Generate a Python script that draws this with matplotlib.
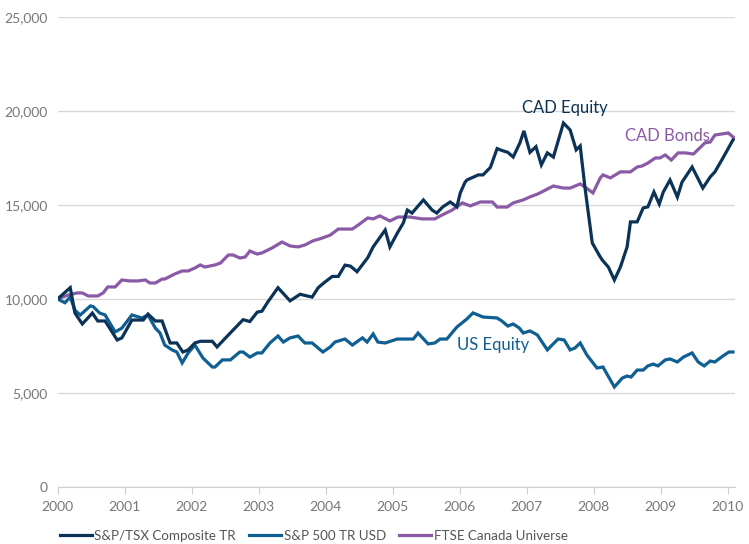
import matplotlib
matplotlib.use("Agg")
import matplotlib.pyplot as plt
from matplotlib.ticker import FuncFormatter

# values: (decimal year, growth of $10,000)
tsx = [(2000.00, 10000), (2000.19, 10600), (2000.26, 9250), (2000.37, 8670), (2000.52, 9250),
       (2000.60, 8830), (2000.71, 8830), (2000.89, 7820), (2000.96, 7930), (2001.11, 8880),
       (2001.28, 8880), (2001.35, 9200), (2001.46, 8830), (2001.56, 8830), (2001.68, 7660),
       (2001.78, 7660), (2001.87, 7180), (2001.95, 7290), (2002.05, 7660), (2002.13, 7750),
       (2002.31, 7750), (2002.38, 7450), (2002.58, 8200), (2002.77, 8900), (2002.87, 8800),
       (2002.98, 9300), (2003.05, 9350), (2003.14, 9850), (2003.29, 10600), (2003.47, 9900),
       (2003.62, 10250), (2003.80, 10100), (2003.89, 10600), (2003.99, 10900), (2004.10, 11200),
       (2004.19, 11200), (2004.29, 11800), (2004.37, 11750), (2004.47, 11450), (2004.63, 12200),
       (2004.71, 12770), (2004.89, 13670), (2004.96, 12770), (2005.07, 13500), (2005.16, 14040),
       (2005.22, 14730), (2005.29, 14570), (2005.46, 15270), (2005.59, 14730), (2005.66, 14570),
       (2005.75, 14900), (2005.86, 15160), (2005.96, 14900), (2006.01, 15640), (2006.08, 16200),
       (2006.11, 16330), (2006.28, 16600), (2006.35, 16600), (2006.46, 17000), (2006.56, 18000),
       (2006.63, 17900), (2006.72, 17800), (2006.80, 17550), (2006.90, 18300), (2006.96, 18940),
       (2007.05, 17800), (2007.14, 18100), (2007.22, 17130), (2007.31, 17770), (2007.40, 17550),
       (2007.55, 19360), (2007.65, 18990), (2007.74, 17930), (2007.80, 18140), (2007.87, 15960),
       (2007.98, 12980), (2008.10, 12230), (2008.13, 12070), (2008.22, 11700), (2008.31, 11010),
       (2008.40, 11700), (2008.50, 12770), (2008.55, 14100), (2008.65, 14100), (2008.74, 14840),
       (2008.81, 14900), (2008.90, 15690), (2008.98, 15050), (2009.04, 15690), (2009.14, 16330),
       (2009.25, 15420), (2009.32, 16220), (2009.47, 17020), (2009.63, 15900), (2009.74, 16490),
       (2009.81, 16760), (2009.93, 17500), (2010.08, 18460)]

sp500 = [(2000.00, 10000), (2000.11, 9800), (2000.19, 10100), (2000.26, 9400), (2000.34, 9150),
         (2000.49, 9630), (2000.53, 9600), (2000.63, 9250), (2000.71, 9150), (2000.86, 8250),
         (2000.96, 8450), (2001.11, 9150), (2001.26, 8990), (2001.35, 9150), (2001.46, 8450),
         (2001.53, 8190), (2001.60, 7550), (2001.71, 7290), (2001.78, 7180), (2001.86, 6600),
         (2001.95, 7130), (2002.05, 7550), (2002.17, 6860), (2002.31, 6380), (2002.35, 6380),
         (2002.46, 6760), (2002.58, 6760), (2002.72, 7180), (2002.77, 7180), (2002.87, 6910),
         (2002.98, 7130), (2003.05, 7130), (2003.17, 7660), (2003.29, 8030), (2003.37, 7710),
         (2003.47, 7930), (2003.59, 8030), (2003.69, 7660), (2003.80, 7660), (2003.89, 7390),
         (2003.96, 7180), (2004.07, 7450), (2004.14, 7710), (2004.29, 7870), (2004.40, 7550),
         (2004.55, 7930), (2004.62, 7710), (2004.71, 8140), (2004.78, 7710), (2004.89, 7660),
         (2005.07, 7870), (2005.31, 7870), (2005.38, 8190), (2005.53, 7610), (2005.63, 7660),
         (2005.71, 7870), (2005.81, 7870), (2005.96, 8510), (2006.11, 8940), (2006.20, 9260),
         (2006.35, 9040), (2006.56, 8990), (2006.63, 8830), (2006.72, 8560), (2006.80, 8670),
         (2006.89, 8460), (2006.95, 8190), (2007.05, 8300), (2007.16, 8090), (2007.31, 7290),
         (2007.38, 7550), (2007.47, 7870), (2007.56, 7820), (2007.65, 7290), (2007.72, 7390),
         (2007.80, 7660), (2007.90, 7020), (2008.05, 6330), (2008.14, 6380), (2008.31, 5320),
         (2008.43, 5800), (2008.50, 5900), (2008.56, 5850), (2008.65, 6220), (2008.74, 6220),
         (2008.81, 6440), (2008.89, 6540), (2008.96, 6440), (2009.07, 6760), (2009.14, 6810),
         (2009.25, 6650), (2009.34, 6910), (2009.47, 7130), (2009.56, 6650), (2009.65, 6440),
         (2009.74, 6700), (2009.81, 6650), (2009.93, 6970), (2010.02, 7180), (2010.08, 7180)]

ftse = [(2000.00, 10000), (2000.16, 10210), (2000.29, 10320), (2000.37, 10320), (2000.46, 10160),
        (2000.60, 10160), (2000.68, 10320), (2000.75, 10640), (2000.86, 10640), (2000.96, 11010),
        (2001.08, 10960), (2001.20, 10960), (2001.31, 11010), (2001.38, 10850), (2001.46, 10850),
        (2001.56, 11060), (2001.60, 11060), (2001.75, 11330), (2001.86, 11490), (2001.95, 11490),
        (2002.05, 11650), (2002.13, 11810), (2002.20, 11700), (2002.35, 11810), (2002.43, 11910),
        (2002.55, 12340), (2002.62, 12340), (2002.72, 12180), (2002.80, 12230), (2002.87, 12550),
        (2002.98, 12390), (2003.05, 12450), (2003.20, 12710), (2003.35, 13030), (2003.47, 12820),
        (2003.59, 12770), (2003.69, 12870), (2003.81, 13090), (2003.95, 13240), (2004.07, 13400),
        (2004.19, 13720), (2004.40, 13720), (2004.49, 13940), (2004.63, 14310), (2004.71, 14260),
        (2004.81, 14420), (2004.96, 14150), (2005.08, 14360), (2005.26, 14360), (2005.44, 14260),
        (2005.63, 14260), (2005.74, 14470), (2005.89, 14730), (2006.04, 15110), (2006.16, 14950),
        (2006.31, 15160), (2006.49, 15160), (2006.56, 14890), (2006.71, 14890), (2006.80, 15110),
        (2006.95, 15270), (2007.05, 15430), (2007.17, 15590), (2007.40, 16010), (2007.55, 15900),
        (2007.65, 15900), (2007.80, 16120), (2007.87, 15960), (2007.99, 15640), (2008.10, 16440),
        (2008.14, 16600), (2008.25, 16440), (2008.40, 16760), (2008.55, 16760), (2008.65, 17020),
        (2008.72, 17070), (2008.81, 17230), (2008.92, 17500), (2008.99, 17500), (2009.07, 17660),
        (2009.16, 17390), (2009.26, 17770), (2009.37, 17770), (2009.49, 17710), (2009.66, 18300),
        (2009.74, 18350), (2009.81, 18720), (2010.01, 18830), (2010.10, 18560)]

series_names = ["S&P/TSX Composite TR", "S&P 500 TR USD", "FTSE Canada Universe"]
years = list(range(2000, 2011))

NAVY = "#0b3257"
BLUE = "#0f5f92"
PURPLE = "#8a5aa6"
GREY = "#777777"

plt.rcParams["font.family"] = ["Lato", "DejaVu Sans"]

fig = plt.figure(figsize=(7.49, 5.44), dpi=100)
ax = fig.add_axes([0.0768, 0.1048, 0.9045, 0.864])

for data, name, col, z in [(tsx, series_names[0], NAVY, 3),
                           (sp500, series_names[1], BLUE, 2),
                           (ftse, series_names[2], PURPLE, 1)]:
    xs, ys = zip(*data)
    ax.plot(xs, ys, color=col, lw=2.3, label=name, zorder=z, solid_joinstyle="miter")

ax.set_xlim(2000, 2010.11)
ax.set_ylim(0, 25000)
ax.set_yticks(range(0, 25001, 5000))
ax.yaxis.set_major_formatter(FuncFormatter(lambda v, p: f"{int(v):,}"))
ax.set_xticks(years)
ax.grid(axis="y", color="#d9d9d9", lw=1)
ax.set_axisbelow(True)
for s in ["top", "right", "left"]:
    ax.spines[s].set_visible(False)
ax.spines["bottom"].set_color("#cfcfcf")
ax.tick_params(axis="y", length=0, pad=7, labelsize=10, labelcolor=GREY)
ax.tick_params(axis="x", length=5, color="#cfcfcf", pad=5, labelsize=10, labelcolor=GREY)

ax.text(2007.575, 19890, "CAD Equity", color=NAVY, fontsize=12, ha="center", va="baseline")
ax.text(2009.10, 18400, "CAD Bonds", color=PURPLE, fontsize=12, ha="center", va="baseline")
ax.text(2006.50, 7290, "US Equity", color=BLUE, fontsize=12, ha="center", va="baseline")

ax.legend(loc="center left", bbox_to_anchor=(0.003, -0.104), ncol=3, frameon=False,
          fontsize=9.6, labelcolor="#555555", handlelength=2.4, handletextpad=0.2,
          columnspacing=1.0, borderaxespad=0, borderpad=0)

fig.savefig("out.png", dpi=100)
